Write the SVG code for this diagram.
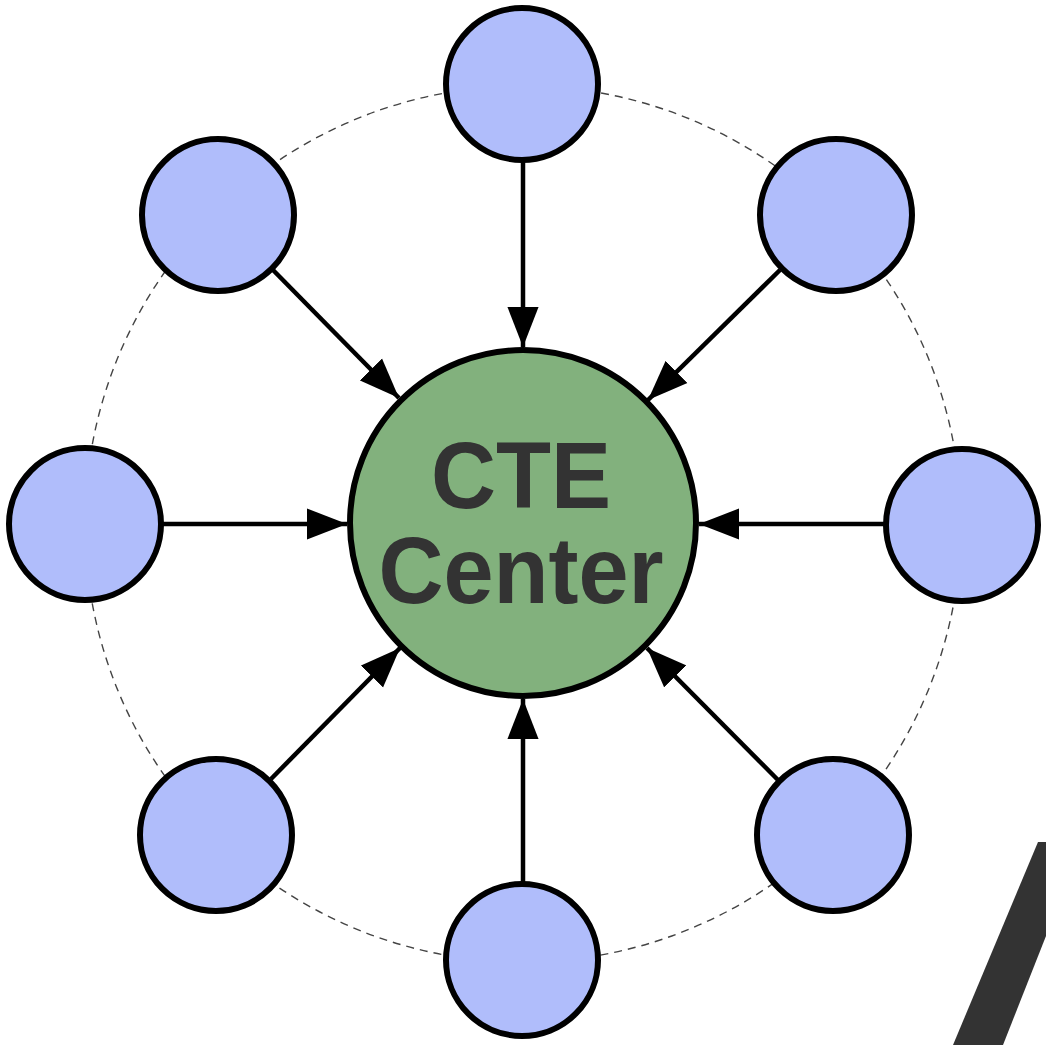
<svg xmlns="http://www.w3.org/2000/svg" width="1046" height="1045" viewBox="0 0 1046 1045">
<style>
.node{fill:#b0bdfb;stroke:#000;stroke-width:6}
.hub{fill:#82b17d;stroke:#000;stroke-width:6}
.edge{stroke:#000;stroke-width:4.5;fill:none}
.ring{fill:none;stroke:#444;stroke-width:1.4;stroke-dasharray:8,6}
.lbl{font-family:"Liberation Sans",Arial,sans-serif;font-weight:bold;font-size:90px;fill:#333;text-anchor:middle}
</style>
<defs>
<marker id="arr" markerUnits="userSpaceOnUse" markerWidth="40" markerHeight="32" viewBox="0 0 36 28" refX="36" refY="14" orient="auto">
<path d="M0,0 L36,14 L0,28 Z" fill="#000"/>
</marker>
</defs>
<rect width="1046" height="1045" fill="#fff"/>
<circle class="ring" cx="523" cy="524" r="438"/>
<g id="connectors">
<line class="edge" x1="523" y1="162" x2="523" y2="347" marker-end="url(#arr)"/>
<line class="edge" x1="273" y1="270" x2="399" y2="398" marker-end="url(#arr)"/>
<line class="edge" x1="780" y1="270" x2="648" y2="400" marker-end="url(#arr)"/>
<line class="edge" x1="163" y1="524" x2="347" y2="524" marker-end="url(#arr)"/>
<line class="edge" x1="884" y1="524" x2="699" y2="524" marker-end="url(#arr)"/>
<line class="edge" x1="271" y1="779" x2="400" y2="648" marker-end="url(#arr)"/>
<line class="edge" x1="778" y1="780" x2="647" y2="648" marker-end="url(#arr)"/>
<line class="edge" x1="523" y1="882" x2="523" y2="699" marker-end="url(#arr)"/>
</g>
<g id="n-top"><circle class="node" cx="522" cy="84" r="76"/></g>
<g id="n-topleft"><circle class="node" cx="218" cy="215" r="76"/></g>
<g id="n-topright"><circle class="node" cx="836" cy="215" r="76"/></g>
<g id="n-left"><circle class="node" cx="85" cy="524" r="76"/></g>
<g id="n-right"><circle class="node" cx="962" cy="525" r="76"/></g>
<g id="n-bottomleft"><circle class="node" cx="216" cy="835" r="76"/></g>
<g id="n-bottomright"><circle class="node" cx="833" cy="835" r="76"/></g>
<g id="n-bottom"><circle class="node" cx="522" cy="960" r="76"/></g>
<g id="hub">
<circle class="hub" cx="523" cy="523" r="173"/>
<text class="lbl" transform="translate(521,508) scale(1,1.06)">CTE</text>
<text class="lbl" transform="translate(521,603) scale(1,1.06)">Center</text>
</g>
<polygon points="953,1045 1003,1045 1046,936 1046,842 1038,842" fill="#333"/>
</svg>
